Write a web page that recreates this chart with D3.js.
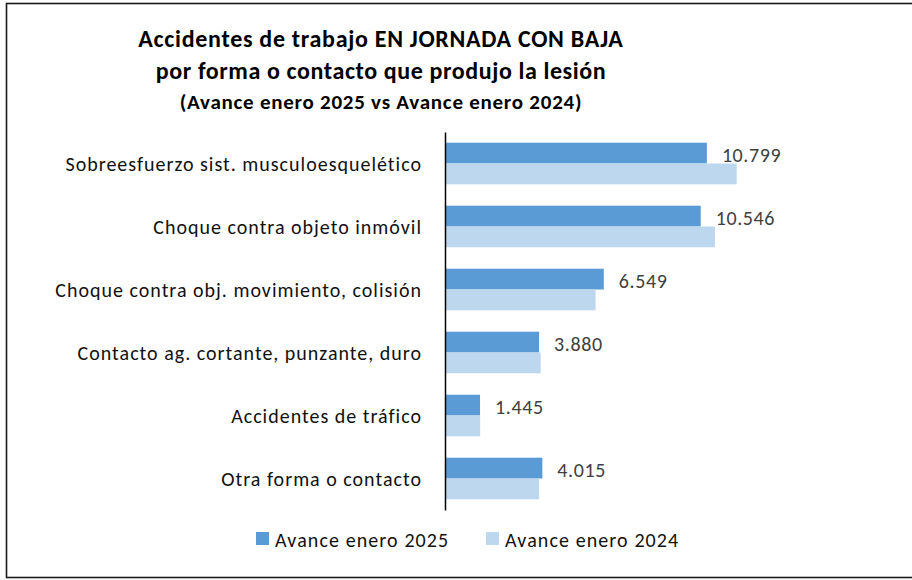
<!DOCTYPE html>
<html>
<head>
<meta charset="utf-8">
<title>Accidentes de trabajo en jornada con baja</title>
<style>
  body { margin: 0; background: #fff; }
  svg { display: block; }
  .cat { font-family: Carlito, Lato, sans-serif; font-size: 20px; letter-spacing: 1px; fill: #111; }
  .val { font-family: Carlito, Lato, sans-serif; font-size: 20px; letter-spacing: 0.6px; fill: #404040; }
  .leg { font-family: Carlito, Lato, sans-serif; font-size: 20px; letter-spacing: 1.1px; fill: #111; }
  .title { font-family: Carlito, Lato, sans-serif; font-weight: bold; fill: #000; }
</style>
</head>
<body>
<svg width="912" height="580"></svg>
<script src="https://d3js.org/d3.v7.min.js"></script>
<script>

var categories = [
  "Sobreesfuerzo sist. musculoesquelético",
  "Choque contra objeto inmóvil",
  "Choque contra obj. movimiento, colisión",
  "Contacto ag. cortante, punzante, duro",
  "Accidentes de tráfico",
  "Otra forma o contacto"
];
var series = ["Avance enero 2025", "Avance enero 2024"];
var values2025 = [10799, 10546, 6549, 3880, 1445, 4015];
var values2024 = [12030, 11130, 6210, 3945, 1450, 3880];
var colors = ["#5b9bd5", "#bdd7ee"];
var titleLines = [
  "Accidentes de trabajo EN JORNADA CON BAJA",
  "por forma o contacto que produjo la lesión",
  "(Avance enero 2025 vs Avance enero 2024)"
];

var svg = d3.select("svg");

// marco exterior
svg.append("rect")
    .attr("x", 6.5).attr("y", 3.5)
    .attr("width", 920).attr("height", 574)
    .attr("fill", "none").attr("stroke", "#1a1a1a").attr("stroke-width", 1.6);

var tsizes = [24, 24, 21], tspace = [0.7, 0.6, 0.75], ty = [38, 70, 102];
svg.selectAll(".title").data(titleLines).enter().append("text")
    .attr("class", "title")
    .attr("x", 381).attr("y", function(d, i) { return ty[i]; })
    .attr("text-anchor", "middle").attr("dominant-baseline", "central")
    .style("font-size", function(d, i) { return tsizes[i] + "px"; })
    .style("letter-spacing", function(d, i) { return tspace[i] + "px"; })
    .text(function(d) { return d; });

var x = d3.scaleLinear().domain([0, 14000]).range([445, 784.5]);
var y = d3.scaleBand().domain(categories).range([132, 510])
    .paddingInner(0.34).paddingOuter(0.17);
var ys = d3.scaleBand().domain(series).range([0, y.bandwidth()]);

var rows = categories.map(function(c, i) {
  return { cat: c, vals: [values2025[i], values2024[i]] };
});

var g = svg.selectAll(".row").data(rows).enter().append("g")
    .attr("transform", function(d) { return "translate(0," + y(d.cat) + ")"; });

g.selectAll("rect").data(function(d) {
    return d.vals.map(function(v, j) { return { s: series[j], v: v, j: j }; });
  }).enter().append("rect")
    .attr("x", x(0))
    .attr("y", function(d) { return ys(d.s); })
    .attr("width", function(d) { return x(d.v) - x(0); })
    .attr("height", ys.bandwidth())
    .attr("fill", function(d) { return colors[d.j]; });

var fmt = d3.formatLocale({ decimal: ",", thousands: ".", grouping: [3], currency: ["", "€"] }).format(",d");

g.append("text").attr("class", "val")
    .attr("x", function(d) { return x(d.vals[0]) + 15; })
    .attr("y", ys(series[0]) + ys.bandwidth() / 2 + 2)
    .attr("dominant-baseline", "central")
    .text(function(d) { return fmt(d.vals[0]); });

// eje vertical
var axis = svg.append("g").attr("transform", "translate(" + x(0) + ",0)")
    .call(d3.axisLeft(y).tickSize(0).tickPadding(23));
axis.select(".domain").attr("stroke", "#000").attr("stroke-width", 1.5);
axis.selectAll("text").attr("class", "cat").attr("dy", "0.35em")
    .attr("fill", null).style("font-size", null).style("font-family", null);
axis.attr("font-size", null).attr("font-family", null);

// leyenda
var leg = svg.append("g");
var lx = [256, 486];
series.forEach(function(s, i) {
  leg.append("rect").attr("x", lx[i]).attr("y", 532).attr("width", 13).attr("height", 13).attr("fill", colors[i]);
  leg.append("text").attr("class", "leg").attr("x", lx[i] + 19).attr("y", 540)
      .attr("dominant-baseline", "central").text(s);
});
</script>
</body>
</html>
